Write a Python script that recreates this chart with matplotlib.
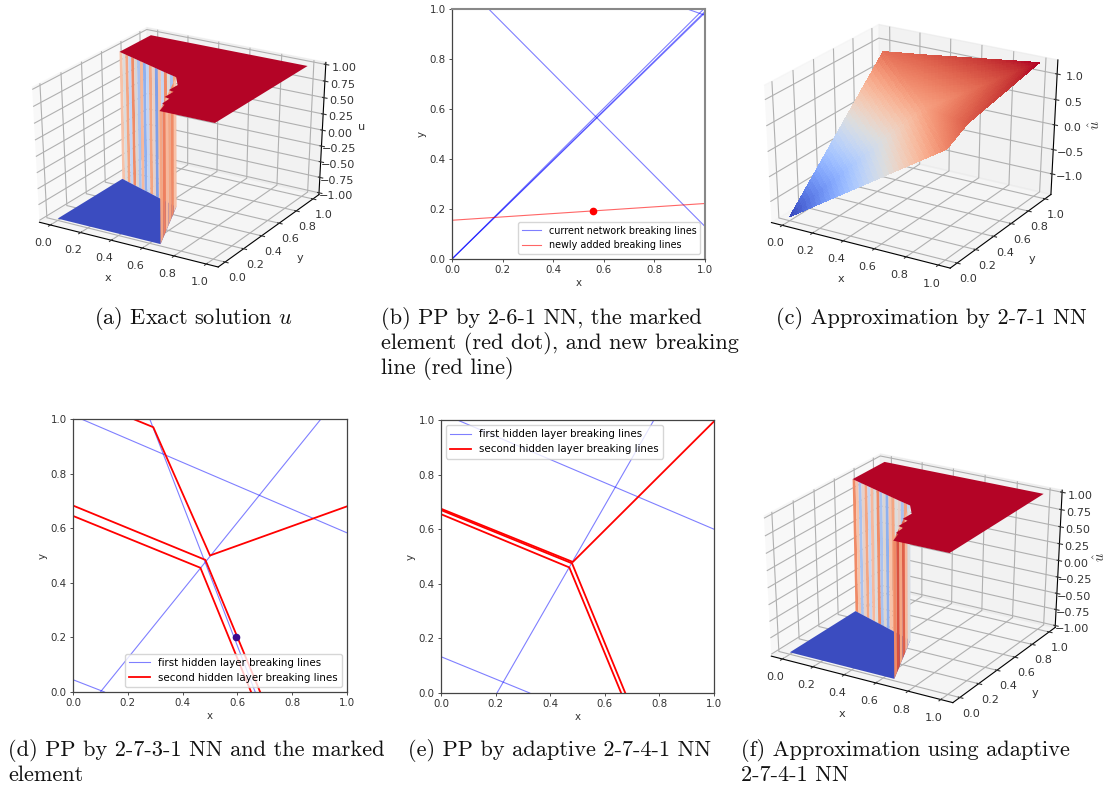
import numpy as np
import matplotlib
matplotlib.use("Agg")
import matplotlib.pyplot as plt
import matplotlib.tri as mtri
from mpl_toolkits.mplot3d.art3d import Poly3DCollection

W, H = 1107, 788

# panel (b), breaking lines as (x0, y0, x1, y1)
b_blue = [(0.145, 1.0, 1.0, 0.13), (0.0, 0.0, 1.0, 0.985), (0.0, 0.0, 0.995, 1.0),
          (0.0, 0.0, 1.0, 0.99), (0.93, 1.0, 1.0, 0.975)]
b_red = [(0.0, 0.155, 1.0, 0.222)]
b_dot = (0.557, 0.192)

# panel (d)
d_blue = [(0.03, 1.0, 1.0, 0.583), (0.28, 1.0, 0.665, 0.0), (0.1, 0.0, 0.905, 1.0),
          (0.0, 0.045, 0.115, 0.0)]
d_red_x = [[0.22, 0.293, 0.5, 1.0], [0.0, 0.483, 0.683], [0.0, 0.465, 0.65]]
d_red_y = [[1.0, 0.97, 0.5, 0.68], [0.683, 0.484, 0.0], [0.645, 0.455, 0.0]]
d_dot = (0.595, 0.2)

# panel (e)
e_blue = [(0.06, 1.0, 1.0, 0.6), (0.205, 0.0, 0.78, 1.0), (0.0, 0.133, 0.325, 0.0)]
e_red_x = [[0.0, 0.483, 1.0], [0.0, 0.48, 0.675], [0.0, 0.47, 0.66]]
e_red_y = [[0.675, 0.48, 0.995], [0.67, 0.475, 0.0], [0.655, 0.46, 0.0]]

# step surface outlines for (a) and (f)
blue_x = [0.0, 0.67, 0.48, 0.0]
blue_y = [0.0, 0.0, 0.48, 0.67]
red_x = [0.0, 0.0, 1.0, 1.0, 0.67, 0.645, 0.625, 0.62, 0.585, 0.585, 0.55, 0.55, 0.48, 0.40, 0.0]
red_y = [0.67, 1.0, 1.0, 0.0, 0.0, 0.09, 0.10, 0.18, 0.19, 0.28, 0.29, 0.38, 0.48, 0.51, 0.67]

wall1_a = ["#f7c2a8", "#dcdcdc", "#f4a582", "#c4d4f2", "#f08a66", "#dcd4d0", "#a9c2f0",
           "#f7b89c", "#8fb0ee", "#c4d4f2", "#f4a582", "#e6d0c9", "#7f9fe8", "#f7c2a8",
           "#c4d4f2", "#f08a66", "#dcdcdc", "#a9c2f0", "#f4a582"]
wall2_a = ["#f7c2a8", "#f08a66", "#f4a582", "#f7b89c", "#ee8060", "#f4a582"]
wall1_f = ["#f08a66", "#f7c2a8", "#a9c2f0", "#e6d0c9", "#f4a582", "#c4d4f2", "#f7b89c",
           "#dcdcdc", "#f08a66", "#a9c2f0", "#dcd4d0", "#8fb0ee", "#f7c2a8", "#f4a582",
           "#dcdcdc", "#e6d0c9", "#a9c2f0", "#f4a582", "#c4d4f2"]
wall2_f = ["#dcdcdc", "#f7b89c", "#e0604a", "#f4a582", "#d9503f", "#f08a66"]

# surface (c): kink vertices of the piecewise linear approximation
c_x = [0.0, 1.0, 1.0, 0.0, 0.27, 1.0, 0.55]
c_y = [0.0, 0.0, 1.0, 1.0, 1.0, 0.22, 0.55]
c_z = [-1.35, 0.72, 1.25, 0.85, 0.95, 0.95, 0.55]

ticks = [0.0, 0.2, 0.4, 0.6, 0.8, 1.0]
u_ticks = [-1.0, -0.75, -0.5, -0.25, 0.0, 0.25, 0.5, 0.75, 1.0]
c_ticks = [-1.0, -0.5, 0.0, 0.5, 1.0]

captions = [
    (94, 324, r"(a) Exact solution $u$"),
    (381, 324, "(b) PP by 2-6-1 NN, the marked"),
    (381, 349, "element (red dot), and new breaking"),
    (381, 374, "line (red line)"),
    (776, 324, "(c) Approximation by 2-7-1 NN"),
    (8, 756, "(d) PP by 2-7-3-1 NN and the marked"),
    (8, 781, "element"),
    (408, 756, "(e) PP by adaptive 2-7-4-1 NN"),
    (741, 756, "(f) Approximation using adaptive"),
    (741, 781, "2-7-4-1 NN"),
]

TICK = 7.4
TICK3D = 8.1
plt.rcParams["mathtext.fontset"] = "cm"
fig = plt.figure(figsize=(W / 100, H / 100), dpi=100)


def rect(left, top, right, bottom):
    return [left / W, 1 - bottom / H, (right - left) / W, (bottom - top) / H]


def draw_lines2d(ax, lines, color, lw, alpha, label):
    for i, (x0, y0, x1, y1) in enumerate(lines):
        ax.plot([x0, x1], [y0, y1], color=color, lw=lw, alpha=alpha,
                label=label if i == 0 else None)


def setup2d(ax):
    ax.set_xlim(0, 1)
    ax.set_ylim(0, 1)
    ax.set_xticks(ticks)
    ax.set_yticks(ticks)
    ax.tick_params(labelsize=TICK, length=2.5, width=0.6, pad=2, colors="#333333")
    ax.set_xlabel("x", fontsize=TICK, labelpad=2, color="#333333")
    ax.set_ylabel("y", fontsize=TICK, labelpad=2, color="#333333")
    for s in ax.spines.values():
        s.set_linewidth(0.9)
        s.set_color("#444444")


def wall_quads(x0, y0, x1, y1, colors, z0=-1.0, z1=1.0):
    n = len(colors)
    xs = np.linspace(x0, x1, n + 1)
    ys = np.linspace(y0, y1, n + 1)
    return [[(xs[i], ys[i], z0), (xs[i + 1], ys[i + 1], z0),
             (xs[i + 1], ys[i + 1], z1), (xs[i], ys[i], z1)] for i in range(n)]


def add_axes3d(cx, cy, w, h):
    ax = fig.add_axes(rect(cx - w / 2, cy - h / 2, cx + w / 2, cy + h / 2), projection="3d")
    # cube stretched to the 4:3 axes box, the way older matplotlib drew it
    ax.apply_aspect = lambda position=None: None
    ax.set_box_aspect((1, 1, 1), zoom=1 / 1.1)
    ax.view_init(elev=30, azim=-59)
    return ax


def setup3d(ax, zlabel, zsize, zticks, zfmt, zrot, zpad):
    ax.set_xlim(-0.073, 1.073)
    ax.set_ylim(-0.073, 1.073)
    ax.set_xticks(ticks)
    ax.set_yticks(ticks)
    ax.set_zticks(zticks)
    ax.set_zticklabels([zfmt.format(v).replace("-", "\u2212") for v in zticks])
    ax.tick_params(labelsize=TICK3D, pad=0, colors="#333333")
    ax.set_xlabel("x", fontsize=TICK3D, labelpad=0, color="#333333")
    ax.set_ylabel("y", fontsize=TICK3D, labelpad=0, color="#333333")
    ax.zaxis.set_rotate_label(False)
    ax.set_zlabel(zlabel, fontsize=zsize, labelpad=zpad, rotation=zrot, color="#333333")
    ax.computed_zorder = False
    ax.patch.set_alpha(0)


def step_surface(ax, wall1, wall2):
    knot = (blue_x[2], blue_y[2])
    ax.add_collection3d(Poly3DCollection(wall_quads(0.0, 0.67, knot[0], knot[1], wall1),
                                         facecolors=wall1, linewidths=0, zorder=1))
    floor = [list(zip(blue_x, blue_y, [-1.0] * 4))]
    ax.add_collection3d(Poly3DCollection(floor, facecolors="#3b4cc0", linewidths=0, zorder=2))
    ax.add_collection3d(Poly3DCollection(wall_quads(knot[0], knot[1], 0.67, 0.0, wall2),
                                         facecolors=wall2, linewidths=0, zorder=3))
    top = [list(zip(red_x, red_y, [1.0] * len(red_x)))]
    ax.add_collection3d(Poly3DCollection(top, facecolors="#b40426", linewidths=0, zorder=4))


# (a)
ax_a = add_axes3d(176, 147, 386, 285)
step_surface(ax_a, wall1_a, wall2_a)
ax_a.set_zlim(-1.03, 1.03)
setup3d(ax_a, "u", TICK3D, u_ticks, "{:.2f}", 0, -3)

# (b)
ax_b = fig.add_axes(rect(452, 9, 705, 259))
draw_lines2d(ax_b, b_blue, "blue", 0.8, 0.5, "current network breaking lines")
draw_lines2d(ax_b, b_red, "red", 0.8, 0.6, "newly added breaking lines")
ax_b.plot(*b_dot, "o", color="red", ms=4.5)
setup2d(ax_b)
ax_b.spines["top"].set_color("#888888")
ax_b.spines["top"].set_linewidth(1.5)
ax_b.spines["right"].set_color("#888888")
ax_b.spines["right"].set_linewidth(1.5)
ax_b.legend(loc="lower right", fontsize=6.9, borderaxespad=0.5, handlelength=2)

# (c)
ax_c = add_axes3d(908, 146, 386, 290)
tri_c = mtri.Triangulation(c_x, c_y)
# subdivide the same planes only so the colour bands look fine like in the figure
refiner = mtri.UniformTriRefiner(tri_c)
tri_fine, z_fine = refiner.refine_field(np.array(c_z),
                                        triinterpolator=mtri.LinearTriInterpolator(tri_c, np.array(c_z)),
                                        subdiv=5)
ax_c.plot_trisurf(tri_fine, z_fine, cmap="coolwarm", linewidth=0, antialiased=False)
ax_c.set_zlim(-1.43, 1.27)
setup3d(ax_c, r"$\hat{u}$", 10.5, c_ticks, "{:.1f}", 90, -2)

# (d)
ax_d = fig.add_axes(rect(73, 419, 347, 692))
draw_lines2d(ax_d, d_blue, "blue", 0.8, 0.5, "first hidden layer breaking lines")
for i, (xs, ys) in enumerate(zip(d_red_x, d_red_y)):
    ax_d.plot(xs, ys, color="red", lw=1.3, label="second hidden layer breaking lines" if i == 0 else None)
ax_d.plot(*d_dot, "o", color="#3b0a8f", ms=4.5)
setup2d(ax_d)
ax_d.legend(loc="lower right", fontsize=TICK, borderaxespad=0.5, handlelength=2)

# (e)
ax_e = fig.add_axes(rect(441, 420, 714, 693))
draw_lines2d(ax_e, e_blue, "blue", 0.8, 0.5, "first hidden layer breaking lines")
for i, (xs, ys) in enumerate(zip(e_red_x, e_red_y)):
    ax_e.plot(xs, ys, color="red", lw=1.3, label="second hidden layer breaking lines" if i == 0 else None)
setup2d(ax_e)
ax_e.legend(loc="upper left", fontsize=TICK, borderaxespad=0.5, handlelength=2)

# (f)
ax_f = add_axes3d(910, 578, 392, 296)
step_surface(ax_f, wall1_f, wall2_f)
ax_f.set_zlim(-1.03, 1.03)
setup3d(ax_f, r"$\hat{u}$", 10.5, u_ticks, "{:.2f}", 90, -2)

for x, y, s in captions:
    fig.text(x / W, 1 - y / H, s, family="cmr10", fontsize=16.1, va="baseline", color="#111111")

fig.savefig("out.png", dpi=100)
